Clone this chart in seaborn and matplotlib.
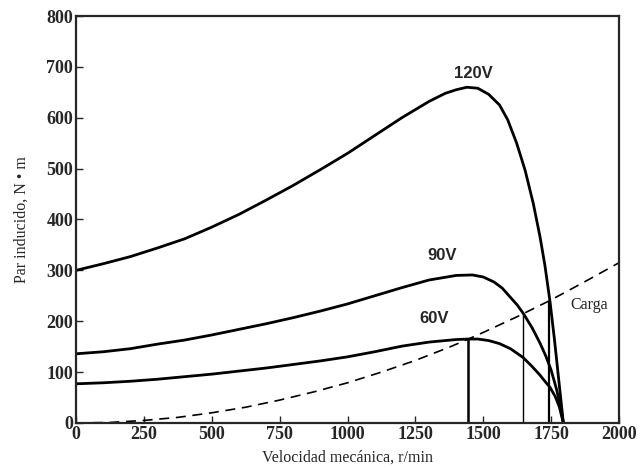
import numpy as np
import pandas as pd
import matplotlib
matplotlib.use("Agg")
import matplotlib.pyplot as plt
import seaborn as sns

# curvas par-velocidad
vel_120 = [0, 100, 200, 300, 400, 500, 600, 700, 800, 900, 1000, 1100, 1200, 1300, 1360, 1400,
           1440, 1480, 1520, 1560, 1590, 1623, 1654, 1684, 1709, 1727, 1746, 1762, 1778, 1795]
par_120 = [300, 313, 327, 344, 362, 385, 410, 438, 467, 498, 530, 565, 600, 632, 648, 655,
           660, 658, 646, 625, 596, 550, 497, 432, 366, 310, 238, 165, 85, 0]

vel_90 = [0, 100, 200, 300, 400, 500, 600, 700, 800, 900, 1000, 1100, 1200, 1300, 1400, 1460,
          1500, 1540, 1570, 1600, 1625, 1648, 1680, 1709, 1730, 1750, 1770, 1785, 1795]
par_90 = [136, 140, 146, 155, 163, 173, 184, 195, 207, 220, 234, 250, 266, 281, 290, 291,
          287, 277, 265, 247, 232, 215, 187, 157, 132, 104, 66, 30, 0]

vel_60 = [0, 100, 200, 300, 400, 500, 600, 700, 800, 900, 1000, 1100, 1200, 1300, 1400, 1445,
          1480, 1520, 1560, 1600, 1646, 1680, 1709, 1730, 1746, 1765, 1780, 1795]
par_60 = [77, 79, 82, 86, 91, 96, 102, 108, 115, 122, 130, 140, 151, 159, 164, 165,
          165, 162, 156, 146, 129, 111, 94, 80, 70, 52, 32, 0]

# carga
vel_carga = [0, 125, 250, 375, 500, 625, 750, 875, 1000, 1125, 1250, 1375, 1445,
             1500, 1625, 1750, 1875, 2000]
par_carga = [0, 1, 5, 11, 20, 31, 45, 61, 79, 100, 123, 149, 165,
             178, 209, 242, 278, 315]

# puntos de operacion
vel_op = [1445, 1648, 1742]
par_op = [165, 215, 240]
ancho_op = [1.8, 1.0, 1.6]

etiquetas = ["120V", "90V", "60V"]
pos_etiq = [(1462, 686), (1348, 330), (1319, 206)]

sns.set_style("ticks")
plt.rcParams['font.family'] = ['Liberation Serif', 'DejaVu Serif']

df = pd.concat([
    pd.DataFrame({"vel": vel_120, "par": par_120, "curva": "120V"}),
    pd.DataFrame({"vel": vel_90, "par": par_90, "curva": "90V"}),
    pd.DataFrame({"vel": vel_60, "par": par_60, "curva": "60V"}),
])

fig = plt.figure(figsize=(6.41, 4.68), dpi=100)
ax = fig.add_axes([0.1186, 0.0962, 0.8471, 0.8696])

sns.lineplot(data=df, x="vel", y="par", units="curva", estimator=None,
             color="black", linewidth=2.0, sort=False, ax=ax, legend=False)
sns.lineplot(x=vel_carga, y=par_carga, color="black", linewidth=1.2,
             ax=ax).lines[-1].set_dashes([6, 4])

for v, p, w in zip(vel_op, par_op, ancho_op):
    ax.vlines(v, 0, p, color="black", linewidth=w)

for txt, (x, y) in zip(etiquetas, pos_etiq):
    ax.text(x, y, txt, ha="center", va="center", fontsize=12, fontweight="bold",
            family=["Liberation Sans", "DejaVu Sans"])
ax.text(1890, 232, "Carga", ha="center", va="center", fontsize=11.5)

ax.set_xlim(0, 2000)
ax.set_ylim(0, 800)
ax.set_xticks(range(0, 2001, 250))
ax.set_yticks(range(0, 801, 100))
ax.tick_params(direction="in", length=5, width=1, labelsize=13, pad=2)
for lab in ax.get_xticklabels() + ax.get_yticklabels():
    lab.set_fontweight("bold")
for s in ax.spines.values():
    s.set_linewidth(1.6)
    s.set_visible(True)

ax.set_xlabel("Velocidad mecánica, r/min", fontsize=11.5, labelpad=5)
ax.set_ylabel("Par inducido, N • m", fontsize=11.5, labelpad=12)

fig.savefig("out.png", dpi=100)
